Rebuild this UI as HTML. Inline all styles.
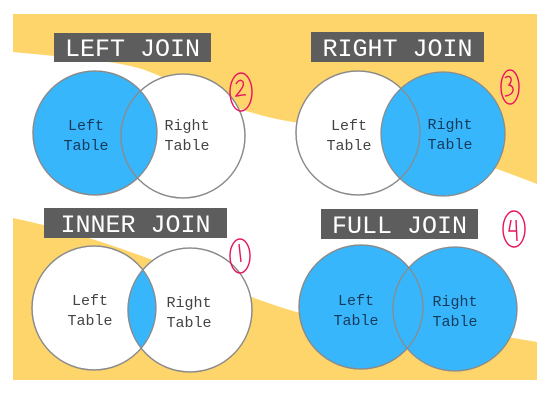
<!DOCTYPE html>
<html><head><style>
html,body{margin:0;padding:0;background:#fff;}
svg{display:block}
</style></head><body>
<svg width="550" height="414" viewBox="0 0 550 414" xmlns="http://www.w3.org/2000/svg">
<rect x="13" y="14" width="524" height="366" fill="#fdd56b"/>
<path d="M13,52 C70,58 120,60 150,72 C200,92 240,115 300,123 C380,130 450,150 537,184 L537,342 C470,330 360,320 300,313 C220,290 120,240 13,218 Z" fill="#fff"/>
<g font-family="'Liberation Mono',monospace" font-size="25" fill="#fff">
<rect x="54" y="33" width="157" height="29" fill="#5d5d5d"/>
<text x="132.5" y="56" text-anchor="middle">LEFT JOIN</text>
<rect x="311" y="32" width="173" height="30" fill="#5d5d5d"/>
<text x="397.5" y="56" text-anchor="middle">RIGHT JOIN</text>
<rect x="44" y="208" width="183" height="30" fill="#5d5d5d"/>
<text x="135.5" y="232" text-anchor="middle">INNER JOIN</text>
<rect x="321" y="209" width="157" height="30" fill="#5d5d5d"/>
<text x="399.5" y="233" text-anchor="middle">FULL JOIN</text>
</g>
<defs>
<clipPath id="c1"><circle cx="95" cy="133" r="62"/></clipPath>
<clipPath id="c3"><circle cx="94" cy="308" r="62"/></clipPath>
</defs>
<g stroke="#8a8a8a" stroke-width="1.3">
<circle cx="95" cy="133" r="62" fill="#38b6fb"/>
<circle cx="183" cy="136" r="62" fill="#fff"/>
<circle cx="183" cy="136" r="62" fill="#38b6fb" clip-path="url(#c1)" stroke="none"/>
<circle cx="95" cy="133" r="62" fill="none"/>
<circle cx="183" cy="136" r="62" fill="none"/>
<circle cx="358" cy="133" r="62" fill="#fff"/>
<circle cx="443" cy="134" r="62" fill="#38b6fb"/>
<circle cx="358" cy="133" r="62" fill="none"/>
<circle cx="94" cy="308" r="62" fill="#fff"/>
<circle cx="190" cy="310" r="62" fill="#fff"/>
<circle cx="190" cy="310" r="62" fill="#38b6fb" clip-path="url(#c3)" stroke="none"/>
<circle cx="94" cy="308" r="62" fill="none"/>
<circle cx="190" cy="310" r="62" fill="none"/>
<circle cx="361" cy="307" r="62" fill="#38b6fb"/>
<circle cx="455" cy="309" r="62" fill="#38b6fb"/>
<circle cx="361" cy="307" r="62" fill="none"/>
</g>
<g font-family="'Liberation Mono',monospace" font-size="15" text-anchor="middle">
<g fill="#163a5a">
<text x="86" y="130">Left</text><text x="86" y="150">Table</text>
<text x="450" y="129">Right</text><text x="450" y="149">Table</text>
<text x="356" y="305">Left</text><text x="356" y="325">Table</text>
<text x="455" y="306">Right</text><text x="455" y="326">Table</text>
</g>
<g fill="#444">
<text x="187" y="130">Right</text><text x="187" y="150">Table</text>
<text x="349" y="130">Left</text><text x="349" y="150">Table</text>
<text x="90" y="305">Left</text><text x="90" y="325">Table</text>
<text x="189" y="307">Right</text><text x="189" y="327">Table</text>
</g>
</g>
<g fill="none" stroke="#e8125f" stroke-width="1.4">
<ellipse cx="241" cy="92" rx="11" ry="19"/>
<path d="M236,84 C239,78 245,80 243,86 C241,91 237,94 236,96 C240,96 243,94 246,95"/>
<ellipse cx="510" cy="87" rx="9" ry="17"/>
<path d="M505,78 C509,74 514,78 509,85 C515,86 515,95 505,96"/>
<ellipse cx="240" cy="256" rx="10" ry="17"/>
<path d="M239,244 L241,262"/>
<ellipse cx="514" cy="229" rx="11" ry="18"/>
<path d="M511,220 L509,231 L517,231 M516,220 L517,241"/>
</g>
</svg>
</body></html>
